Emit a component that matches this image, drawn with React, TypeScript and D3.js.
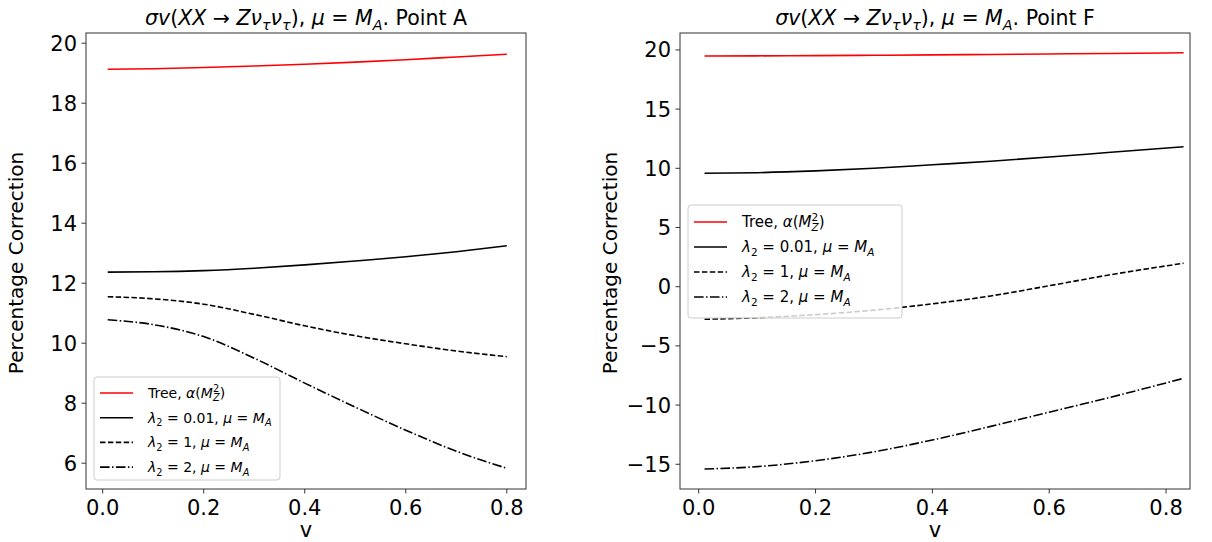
import React from 'react';
import * as d3 from 'd3';

// v values
const vA = [0.01, 0.1, 0.2, 0.3, 0.4, 0.5, 0.6, 0.7, 0.8];
const treeA = [19.13, 19.15, 19.19, 19.24, 19.3, 19.37, 19.45, 19.54, 19.63];
const lam001A = [12.37, 12.38, 12.42, 12.5, 12.61, 12.74, 12.88, 13.05, 13.25];
const lam1A = [11.55, 11.48, 11.3, 10.96, 10.58, 10.25, 9.98, 9.74, 9.55];
const lam2A = [10.78, 10.62, 10.22, 9.5, 8.67, 7.87, 7.1, 6.4, 5.83];

const vF = [0.01, 0.1, 0.2, 0.3, 0.4, 0.5, 0.6, 0.7, 0.83];
const treeF = [19.49, 19.5, 19.52, 19.55, 19.58, 19.62, 19.66, 19.7, 19.76];
const lam001F = [9.58, 9.63, 9.78, 10.0, 10.3, 10.6, 10.95, 11.33, 11.82];
const lam1F = [-2.75, -2.62, -2.36, -1.98, -1.45, -0.78, 0.08, 0.97, 1.98];
const lam2F = [-15.4, -15.2, -14.7, -13.95, -12.95, -11.8, -10.6, -9.4, -7.74];

const xTicks = [0, 0.2, 0.4, 0.6, 0.8];
const yTicksA = [6, 8, 10, 12, 14, 16, 18, 20];
const yTicksF = [-15, -10, -5, 0, 5, 10, 15, 20];

const FONT = 'DejaVu Sans';

type Seg = { t: string; it?: boolean; sub?: boolean; sup?: boolean; dx?: number };

const MathText = ({ segs, size, ...rest }: any) => {
  let shift = 0;
  return (
    <text fontFamily={FONT} fontSize={size} {...rest}>
      {segs.map((s: Seg, i: number) => {
        const target = s.sub ? 0.24 * size : s.sup ? -0.42 * size : 0;
        const dy = target - shift;
        shift = target;
        return (
          <tspan
            key={i}
            dy={dy || undefined}
            dx={s.dx}
            fontStyle={s.it ? 'italic' : 'normal'}
            fontSize={s.sub || s.sup ? size * 0.7 : size}
          >
            {s.t}
          </tspan>
        );
      })}
    </text>
  );
};

const titleSegs = (point: string): Seg[] => [
  { t: 'σv', it: true },
  { t: '(' },
  { t: 'XX', it: true },
  { t: ' → ' },
  { t: 'Zν', it: true },
  { t: 'τ', it: true, sub: true },
  { t: 'ν', it: true },
  { t: 'τ', it: true, sub: true },
  { t: '), ' },
  { t: 'μ', it: true },
  { t: ' = ' },
  { t: 'M', it: true },
  { t: 'A', it: true, sub: true },
  { t: '. Point ' + point },
];

const legendSegs = (size: number): Seg[][] => [
  [
    { t: 'Tree, ' },
    { t: 'α', it: true },
    { t: '(' },
    { t: 'M', it: true },
    { t: 'Z', it: true, sub: true },
    { t: '2', sup: true, dx: -0.7 * size * 0.68 },
    { t: ')', dx: 0.5 },
  ],
  [
    { t: 'λ', it: true },
    { t: '2', sub: true },
    { t: ' = 0.01, ' },
    { t: 'μ', it: true },
    { t: ' = ' },
    { t: 'M', it: true },
    { t: 'A', it: true, sub: true },
  ],
  [
    { t: 'λ', it: true },
    { t: '2', sub: true },
    { t: ' = 1, ' },
    { t: 'μ', it: true },
    { t: ' = ' },
    { t: 'M', it: true },
    { t: 'A', it: true, sub: true },
  ],
  [
    { t: 'λ', it: true },
    { t: '2', sub: true },
    { t: ' = 2, ' },
    { t: 'μ', it: true },
    { t: ' = ' },
    { t: 'M', it: true },
    { t: 'A', it: true, sub: true },
  ],
];

const styles = [
  { color: '#ff0000', dash: undefined },
  { color: '#000000', dash: undefined },
  { color: '#000000', dash: '5.5,2.4' },
  { color: '#000000', dash: '9.6,2.4,1.5,2.4' },
];

const panels = [
  {
    point: 'A',
    v: vA,
    series: [treeA, lam001A, lam1A, lam2A],
    xDomain: [-0.033, 0.838],
    yDomain: [5.14, 20.34],
    yTicks: yTicksA,
    box: { left: 86, right: 526, top: 33, bottom: 489 },
    legend: { x: 94, y: 377, w: 186, h: 103, rowY: 393, rowStep: 24.7, font: 14 },
  },
  {
    point: 'F',
    v: vF,
    series: [treeF, lam001F, lam1F, lam2F],
    xDomain: [-0.032, 0.841],
    yDomain: [-17.09, 21.43],
    yTicks: yTicksF,
    box: { left: 680, right: 1190, top: 33, bottom: 489 },
    legend: { x: 688, y: 205, w: 214, h: 113, rowY: 222, rowStep: 25, font: 15 },
  },
];

const fmtX = d3.format('.1f');
const fmtY = d3.format('d');

const Panel = ({ p }: any) => {
  const { box, legend } = p;
  const x = d3.scaleLinear().domain(p.xDomain).range([box.left, box.right]);
  const y = d3.scaleLinear().domain(p.yDomain).range([box.bottom, box.top]);
  const line = d3
    .line<number>()
    .x((_, i) => x(p.v[i]))
    .y((d) => y(d))
    .curve(d3.curveMonotoneX);
  const cx = (box.left + box.right) / 2;
  const cy = (box.top + box.bottom) / 2;
  const lsegs = legendSegs(legend.font);

  return (
    <g>
      <defs>
        <clipPath id={'clip' + p.point}>
          <rect x={box.left} y={box.top} width={box.right - box.left} height={box.bottom - box.top} />
        </clipPath>
      </defs>
      <g clipPath={`url(#clip${p.point})`}>
        {p.series.map((s: number[], i: number) => (
          <path
            key={i}
            d={line(s) || ''}
            fill="none"
            stroke={styles[i].color}
            strokeWidth={1.6}
            strokeDasharray={styles[i].dash}
          />
        ))}
      </g>
      <rect
        x={box.left}
        y={box.top}
        width={box.right - box.left}
        height={box.bottom - box.top}
        fill="none"
        stroke="#333"
        strokeWidth={1}
      />
      {xTicks.map((t) => (
        <g key={t}>
          <line x1={x(t)} x2={x(t)} y1={box.bottom} y2={box.bottom + 4.5} stroke="#333" />
          <text x={x(t)} y={box.bottom + 26} textAnchor="middle" fontFamily={FONT} fontSize={21} fill="#000">
            {fmtX(t)}
          </text>
        </g>
      ))}
      {p.yTicks.map((t: number) => (
        <g key={t}>
          <line x1={box.left - 4.5} x2={box.left} y1={y(t)} y2={y(t)} stroke="#333" />
          <text
            x={box.left - 9}
            y={y(t)}
            dy="0.36em"
            textAnchor="end"
            fontFamily={FONT}
            fontSize={21}
            fill="#000"
          >
            {fmtY(t)}
          </text>
        </g>
      ))}
      <text x={cx} y={537} textAnchor="middle" fontFamily={FONT} fontSize={21}>
        v
      </text>
      <text
        transform={`translate(${box.left - 63},${cy + 2}) rotate(-90)`}
        textAnchor="middle"
        fontFamily={FONT}
        fontSize={20}
      >
        Percentage Correction
      </text>
      <MathText segs={titleSegs(p.point)} size={20.5} x={cx} y={25} textAnchor="middle" />
      <rect
        x={legend.x}
        y={legend.y}
        width={legend.w}
        height={legend.h}
        rx={3}
        fill="#fff"
        fillOpacity={0.8}
        stroke="#cccccc"
        strokeWidth={1}
      />
      {lsegs.map((segs, i) => {
        const ry = legend.rowY + i * legend.rowStep;
        return (
          <g key={i}>
            <line
              x1={legend.x + 6}
              x2={legend.x + 39}
              y1={ry}
              y2={ry}
              stroke={styles[i].color}
              strokeWidth={1.6}
              strokeDasharray={styles[i].dash}
            />
            <MathText segs={segs} size={legend.font} x={legend.x + 54} y={ry + legend.font * 0.36} />
          </g>
        );
      })}
    </g>
  );
};

export default function App() {
  return (
    <svg
      width={1212}
      height={542}
      viewBox="0 0 1212 542"
      style={{ position: 'absolute', left: 0, top: 0, background: '#fff' }}
    >
      {panels.map((p) => (
        <Panel key={p.point} p={p} />
      ))}
    </svg>
  );
}
